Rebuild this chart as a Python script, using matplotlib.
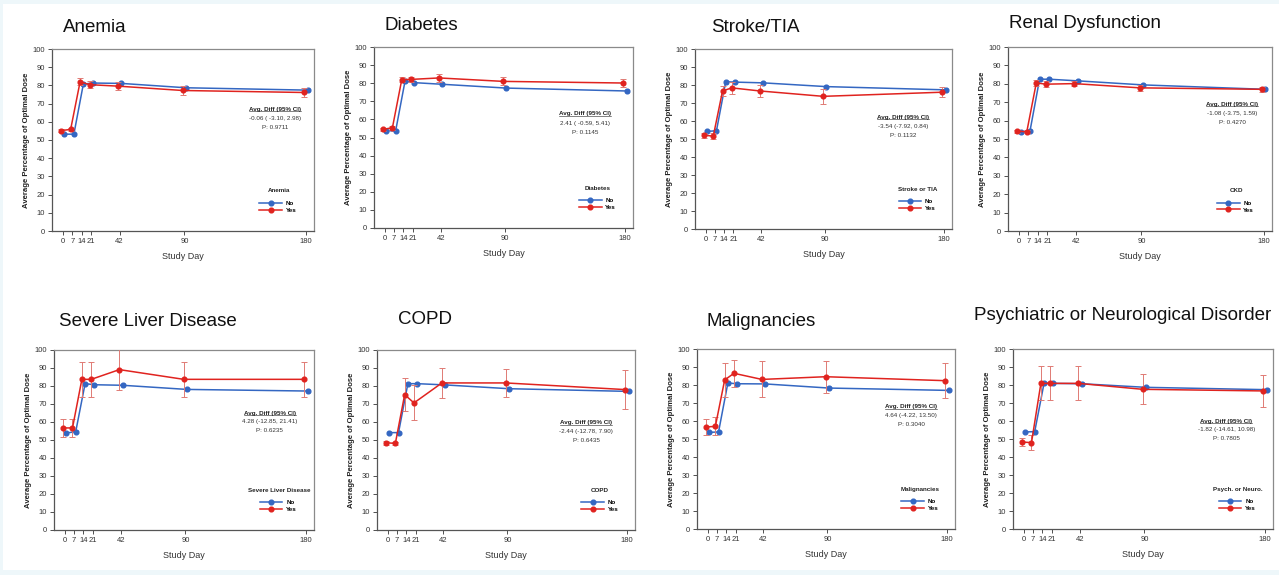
import numpy as np
import matplotlib
matplotlib.use("Agg")
import matplotlib.pyplot as plt
from matplotlib.patches import Rectangle
from matplotlib.lines import Line2D

plt.rcParams['font.family'] = ['Liberation Sans', 'DejaVu Sans']

days = [0, 7, 14, 21, 42, 90, 180]
shift = 1.2

titles = ["Anemia", "Diabetes", "Stroke/TIA", "Renal Dysfunction",
          "Severe Liver Disease", "COPD", "Malignancies",
          "Psychiatric or Neurological Disorder"]
legend_titles = ["Anemia", "Diabetes", "Stroke or TIA", "CKD",
                 "Severe Liver Disease", "COPD", "Malignancies", "Psych. or Neuro."]
diff_text = ["-0.06 ( -3.10, 2.98)", "2.41 ( -0.59, 5.41)", "-3.54 (-7.92, 0.84)",
             "-1.08 (-3.75, 1.59)", "4.28 (-12.85, 21.41)", "-2.44 (-12.78, 7.90)",
             "4.64 (-4.22, 13.50)", "-1.82 (-14.61, 10.98)"]
p_text = ["P: 0.9711", "P: 0.1145", "P: 0.1132", "P: 0.4270",
          "P: 0.6235", "P: 0.6435", "P: 0.3040", "P: 0.7805"]

# mean % of optimal dose, "No" group
no_anemia = [53.2, 53.2, 80.7, 81.3, 81.1, 78.7, 77.4]
no_diabetes = [53.8, 53.6, 81.0, 80.3, 79.4, 77.3, 75.7]
no_stroke = [54.2, 54.6, 81.8, 81.6, 81.2, 79.1, 77.3]
no_renal = [53.7, 54.5, 82.5, 82.5, 81.6, 79.4, 77.0]
no_liver = [53.9, 54.6, 81.3, 80.7, 80.4, 78.1, 77.2]
no_copd = [54.1, 54.1, 81.3, 81.3, 80.6, 78.5, 77.0]
no_malig = [53.7, 53.9, 81.1, 80.7, 80.6, 78.3, 77.0]
no_psych = [53.9, 54.1, 81.1, 80.9, 80.7, 78.7, 77.4]

# "Yes" group
yes_anemia = [55.2, 55.8, 82.0, 80.4, 79.6, 77.2, 76.1]
yes_diabetes = [54.5, 55.4, 82.0, 82.1, 82.9, 81.0, 80.1]
yes_stroke = [52.1, 51.6, 76.7, 78.4, 76.7, 73.7, 76.0]
yes_renal = [54.3, 53.9, 80.5, 79.8, 80.1, 77.8, 77.0]
yes_liver = [56.7, 56.7, 83.7, 83.7, 89.1, 83.7, 83.7]
yes_copd = [48.5, 48.1, 75.2, 70.6, 81.7, 81.7, 78.0]
yes_malig = [56.7, 57.0, 82.8, 86.5, 83.1, 84.6, 82.4]
yes_psych = [48.3, 48.0, 80.9, 80.9, 80.9, 77.6, 76.7]

# half-width of the 95% CI
err_yes_anemia = [1.0, 1.0, 1.8, 1.8, 2.0, 2.2, 2.5]
err_yes_diabetes = [0.8, 1.0, 1.5, 1.5, 2.0, 2.2, 2.2]
err_yes_stroke = [1.5, 1.5, 3.0, 3.2, 3.5, 4.0, 2.8]
err_yes_renal = [0.8, 0.8, 1.5, 1.5, 1.5, 1.5, 1.5]
err_yes_liver = [5.2, 5.2, 9.6, 9.6, 11.3, 9.6, 9.6]
err_yes_copd = [1.0, 1.0, 9.0, 9.7, 8.5, 8.0, 11.0]
err_yes_malig = [4.6, 5.0, 9.5, 7.6, 10.0, 9.0, 9.6]
err_yes_psych = [2.1, 4.0, 9.5, 9.5, 9.5, 8.3, 9.0]
err_no = [0.8, 0.8, 1.0, 1.0, 1.0, 1.0, 1.0]

no_all = [no_anemia, no_diabetes, no_stroke, no_renal, no_liver, no_copd, no_malig, no_psych]
yes_all = [yes_anemia, yes_diabetes, yes_stroke, yes_renal, yes_liver, yes_copd, yes_malig, yes_psych]
err_all = [err_yes_anemia, err_yes_diabetes, err_yes_stroke, err_yes_renal,
           err_yes_liver, err_yes_copd, err_yes_malig, err_yes_psych]

W, H = 1279, 575
# axes boxes in pixels: left, top, right, bottom
boxes = [(52, 49, 314, 231), (374, 47, 633, 228), (695, 49, 952, 229), (1008, 47, 1272, 231),
         (54, 350, 314, 530), (377, 350, 635, 530), (697, 349, 955, 529), (1013, 349, 1273, 529)]
title_pos = [(63, 27), (385, 25), (711, 27), (1009, 23),
             (59, 321), (398, 320), (707, 321), (974, 316)]
annot_pos = [(0.85, 0.67), (0.815, 0.63), (0.81, 0.62), (0.85, 0.69),
             (0.83, 0.65), (0.81, 0.595), (0.83, 0.68), (0.82, 0.60)]

blue = '#3467c2'
red = '#e0231f'

fig = plt.figure(figsize=(W / 100, H / 100), dpi=100)
fig.patch.set_facecolor('#eef7fa')
fig.patches.append(Rectangle((3 / W, 5 / H), 1 - 3 / W, (571 - 5) / H,
                             transform=fig.transFigure, facecolor='white',
                             edgecolor='none', zorder=-5))

headers = []
for i in range(8):
    l, t, r, b = boxes[i]
    ax = fig.add_axes([l / W, 1 - b / H, (r - l) / W, (b - t) / H])
    ax.set_zorder(1)
    ax.patch.set_alpha(0)
    xn = np.array(days) + shift
    xy = np.array(days) - shift
    eb_no = ax.errorbar(xn, no_all[i], yerr=err_no, color=blue, lw=1.1, marker='o', ms=3.4,
                        ecolor='#7d9ed8', elinewidth=0.6, capsize=1.5, capthick=0.6, zorder=3)
    eb_yes = ax.errorbar(xy, yes_all[i], yerr=err_all[i], color=red, lw=1.1, marker='o', ms=3.4,
                         ecolor='#e07a74', elinewidth=0.7, capsize=2, capthick=0.7, zorder=4)
    ax.set_xlim(-8, 186)
    ax.set_ylim(0, 100)
    ax.set_xticks(days)
    ax.set_yticks(range(0, 101, 10))
    ax.tick_params(labelsize=5.5, length=3, width=0.6, colors='#333333', pad=2)
    for s in ax.spines.values():
        s.set_color('#8a8a8a')
        s.set_linewidth(0.9)
    ax.spines['left'].set_color('#555555')
    ax.spines['bottom'].set_color('#555555')
    ax.set_xlabel("Study Day", fontsize=6.5, color='#333333', labelpad=5)
    ax.set_ylabel("Average Percentage of Optimal Dose", fontsize=5.6, fontweight='bold',
                  color='#222222', labelpad=1.5)

    fx, fy = annot_pos[i]
    hdr = ax.text(fx, fy, "Avg. Diff (95% CI)", transform=ax.transAxes, ha='center', va='center',
                  fontsize=4.5, fontweight='bold', color='#222222')
    headers.append((ax, hdr))
    ax.text(fx, fy - 0.05, diff_text[i], transform=ax.transAxes, ha='center', va='center',
            fontsize=4.5, color='#333333')
    ax.text(fx, fy - 0.10, p_text[i], transform=ax.transAxes, ha='center', va='center',
            fontsize=4.5, color='#333333')

    ax.text(0.865, 0.22, legend_titles[i], transform=ax.transAxes, ha='center', va='center',
            fontsize=4.5, fontweight='bold', color='#222222')
    ax.legend([eb_no.lines[0], eb_yes.lines[0]], ["No", "Yes"], loc='center left',
              bbox_to_anchor=(0.78, 0.133), frameon=False, handlelength=3.6,
              handletextpad=0.6, labelspacing=0.25, borderpad=0,
              prop={'size': 4.5, 'weight': 'bold'})

    tx, ty = title_pos[i]
    fig.text(tx / W, 1 - ty / H, titles[i], fontsize=13.5, ha='left', va='center', color='#111111')

# underline the "Avg. Diff" headers
fig.canvas.draw()
inv = fig.transFigure.inverted()
for ax, hdr in headers:
    bb = hdr.get_window_extent()
    (x0, y0), (x1, _) = inv.transform([(bb.x0, bb.y0), (bb.x1, bb.y0)])
    fig.lines.append(Line2D([x0, x1], [y0 + 0.5 / H, y0 + 0.5 / H], transform=fig.transFigure,
                            color='#222222', lw=0.4, zorder=5))

fig.savefig("out.png", dpi=100, facecolor=fig.get_facecolor())
